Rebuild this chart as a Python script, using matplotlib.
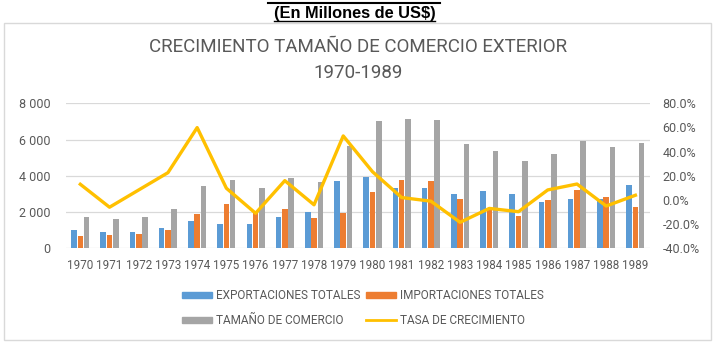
import matplotlib.pyplot as plt
import numpy as np
from matplotlib.patches import Patch, Rectangle
from matplotlib.lines import Line2D

years = [str(y) for y in range(1970, 1990)]
exportaciones = [1010, 880, 917, 1100, 1505, 1320, 1320, 1710, 2000, 3730,
                 3950, 3330, 3345, 3010, 3180, 3010, 2570, 2720, 2700, 3490]
importaciones = [680, 715, 790, 1010, 1890, 2425, 2000, 2150, 1655, 1950,
                 3090, 3785, 3710, 2720, 2100, 1800, 2650, 3235, 2850, 2280]
tamano = [1727, 1600, 1745, 2150, 3420, 3770, 3345, 3880, 3680, 5645,
          7040, 7135, 7080, 5770, 5370, 4835, 5220, 5940, 5590, 5810]
tasa = [13.0, -6.0, 8.3, 22.6, 59.9, 9.7, -11.0, 16.0, -4.0, 53.0,
        23.4, 2.0, -1.0, -18.5, -7.0, -9.7, 8.3, 13.2, -5.0, 3.9]

left_ticks = [0, 2000, 4000, 6000, 8000]
right_ticks = [-40, -20, 0, 20, 40, 60, 80]

BLUE = "#5B9BD5"
ORANGE = "#ED7D31"
GRAY = "#A5A5A5"
YELLOW = "#FFC000"
TXT = "#595959"
GRID = "#D9D9D9"

plt.rcParams['font.family'] = ['Roboto', 'DejaVu Sans']

W, H = 716, 345
fig = plt.figure(figsize=(W / 100, H / 100), dpi=100)


def px(x, y):
    """pixel coords (top-left origin) -> figure fraction"""
    return x / W, 1 - y / H


# chart frame
fig.patches.append(Rectangle((4 / W, 1 - 340 / H), 706.5 / W, 317.5 / H,
                             transform=fig.transFigure, fill=False,
                             edgecolor=GRID, linewidth=1))

# header
hx, hy = px(354.5, 13.5)
header = fig.text(hx, hy, "(En Millones de US$)", ha='center', va='center',
                  fontsize=11.8, fontweight='bold', color='black',
                  family='Liberation Sans')
fig.add_artist(Line2D([267.7 / W, 440 / W], [1 - 2.5 / H, 1 - 2.5 / H],
                      transform=fig.transFigure, color='black', lw=1.5))
fig.canvas.draw()
bb = header.get_window_extent().transformed(fig.transFigure.inverted())
fig.add_artist(Line2D([bb.x0, bb.x1], [1 - 21 / H, 1 - 21 / H],
                      transform=fig.transFigure, color='black', lw=1))

tx, ty = px(358, 46.7)
fig.text(tx, ty, "CRECIMIENTO TAMAÑO DE COMERCIO EXTERIOR", ha='center',
         va='center', fontsize=13.5, color=TXT)
tx, ty = px(358, 73.3)
fig.text(tx, ty, "1970-1989", ha='center', va='center', fontsize=13.5,
         color=TXT)

ax = fig.add_axes([65.7 / W, 1 - 248.3 / H, (650 - 65.7) / W, 145 / H])
x = np.arange(len(years))
bw = 0.19
off = 0.215
b1 = ax.bar(x - off, exportaciones, bw, color=BLUE, zorder=2)
b2 = ax.bar(x, importaciones, bw, color=ORANGE, zorder=2)
b3 = ax.bar(x + off, tamano, bw, color=GRAY, zorder=2)
ax.set_xlim(-0.5, len(years) - 0.5)
ax.set_ylim(0, 8000)
ax.set_yticks(left_ticks)
ax.set_yticklabels([f"{v:,}".replace(",", " ") for v in left_ticks])
ax.set_xticks(x)
ax.set_xticklabels(years)
ax.yaxis.grid(True, color=GRID, lw=0.9, zorder=0)
ax.set_axisbelow(True)
for s in ax.spines.values():
    s.set_visible(False)
ax.tick_params(axis='y', length=0, pad=11, labelsize=9, labelcolor=TXT)
ax.tick_params(axis='x', length=0, pad=8, labelsize=8.4, labelcolor=TXT)

ax2 = ax.twinx()
ln, = ax2.plot(x, tasa, color=YELLOW, lw=2.4, zorder=3)
ax2.set_ylim(-40, 80)
ax2.set_yticks(right_ticks)
ax2.set_yticklabels([f"{v:.1f}%" for v in right_ticks])
for s in ax2.spines.values():
    s.set_visible(False)
ax2.tick_params(axis='y', length=0, pad=9, labelsize=9, labelcolor=TXT)

handles = [Patch(color=BLUE), Patch(color=GRAY),
           Patch(color=ORANGE), Line2D([], [], color=YELLOW, lw=2)]
labels = ["EXPORTACIONES TOTALES", "TAMAÑO DE COMERCIO",
          "IMPORTACIONES TOTALES", "TASA DE CRECIMIENTO"]
lx, ly = px(182, 308)
fig.legend(handles, labels, ncol=2, loc='center left', bbox_to_anchor=(lx, ly),
           frameon=False, fontsize=8.5, labelcolor=TXT, handlelength=2.5,
           handleheight=0.45, handletextpad=0.35, columnspacing=0.5,
           labelspacing=1.0, borderpad=0, borderaxespad=0)

fig.savefig("out.png", dpi=100)
